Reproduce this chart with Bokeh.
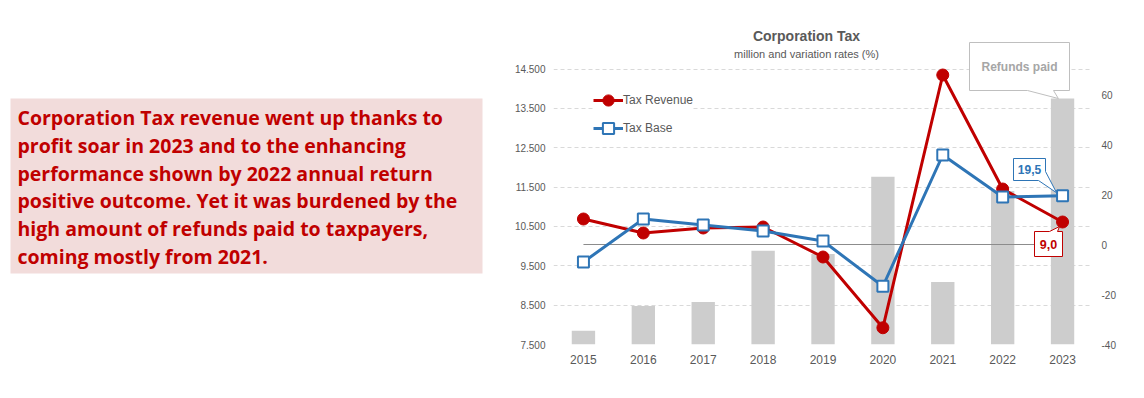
from bokeh.plotting import figure
from bokeh.models import Range1d, LinearAxis, FixedTicker, Legend, LegendItem
from bokeh.layouts import row
from bokeh.core.properties import value
from bokeh.embed import file_html
from bokeh.resources import INLINE

# ---------------- data ----------------
years = [2015, 2016, 2017, 2018, 2019, 2020, 2021, 2022, 2023]
year_labels = ["2015", "2016", "2017", "2018", "2019", "2020", "2021", "2022", "2023"]
refunds_paid = [7850, 8480, 8580, 9880, 9800, 11760, 9090, 11400, 13750]      # million (left axis)
tax_revenue_rate = [10.2, 4.6, 6.6, 7.0, -5.0, -33.3, 67.8, 22.2, 9.0]        # % (right axis)
tax_base_rate = [-7.0, 10.2, 7.8, 5.4, 1.4, -16.7, 35.8, 19.0, 19.5]          # % (right axis)
left_ticks = [7500, 8500, 9500, 10500, 11500, 12500, 13500, 14500]
left_tick_labels = ["7.500", "8.500", "9.500", "10.500", "11.500", "12.500", "13.500", "14.500"]
right_ticks = [-40, -20, 0, 20, 40, 60]
right_tick_labels = ["-40", "-20", "0", "20", "40", "60"]
title_text = "Corporation Tax"
subtitle_text = "million and variation rates (%)"
series_names = ["Tax Revenue", "Tax Base"]
bar_name = "Refunds paid"
callout_base = "19,5"
callout_revenue = "9,0"
comment_lines = [
    "Corporation Tax revenue went up thanks to",
    "profit soar in 2023 and to the enhancing",
    "performance shown by 2022 annual return",
    "positive outcome. Yet it was burdened by the",
    "high amount of refunds paid to taxpayers,",
    "coming mostly from 2021.",
]

# ---------------- styles ----------------
RED = "#C00000"
BLUE = "#2E75B6"
GREY_TXT = "#595959"
BAR = "#CDCDCD"
GRID = "#D9D9D9"
FONT = "Liberation Sans"

# page geometry (page has no margin)
TOTAL_W, TOTAL_H = 1144, 398
LW = 498                         # left panel width
FR_LEFT_IMG, FR_RIGHT_IMG = 553, 1092
FR_TOP_IMG, FR_BOT_IMG = 14, 344
FR_W = FR_RIGHT_IMG - FR_LEFT_IMG
FR_H = FR_BOT_IMG - FR_TOP_IMG
MT, MB = FR_TOP_IMG, TOTAL_H - FR_BOT_IMG
ML, MR = FR_LEFT_IMG - LW, TOTAL_W - FR_RIGHT_IMG

# ---------------- left comment panel ----------------
left = figure(frame_width=LW, frame_height=FR_H, min_border_left=0, min_border_right=0,
              min_border_top=MT, min_border_bottom=MB,
              x_range=Range1d(0, LW), y_range=Range1d(FR_BOT_IMG, FR_TOP_IMG),
              x_axis_type=None, y_axis_type=None,
              toolbar_location=None, tools="", output_backend="svg")
left.grid.visible = False
left.outline_line_color = None
left.quad(left=10, right=482, top=98, bottom=273, fill_color="#F2DCDB", line_color=None)
left.text(x=[17] * len(comment_lines), y=[117 + 27.8 * i for i in range(len(comment_lines))],
          text=comment_lines, text_color=RED, text_font=value("Open Sans"),
          text_font_style="bold", text_font_size="19.5px", text_baseline="middle")

# ---------------- chart ----------------
LEFT_PX_PER_UNIT = 275.5 / 7000
RATE_PX_PER_UNIT = 2.5
PX_PER_YEAR = FR_W / len(years)

def x_of(px):
    return years[0] - 0.5 + (px - FR_LEFT_IMG) / PX_PER_YEAR

def left_of(py):
    return left_ticks[0] + (FR_BOT_IMG - py) / LEFT_PX_PER_UNIT

def rate_of(py):
    return right_ticks[0] + (FR_BOT_IMG - py) / RATE_PX_PER_UNIT

p = figure(frame_width=FR_W, frame_height=FR_H,
           min_border_left=ML, min_border_right=MR, min_border_top=MT, min_border_bottom=MB,
           x_range=Range1d(years[0] - 0.5, years[-1] + 0.5),
           y_range=Range1d(left_ticks[0], left_ticks[0] + FR_H / LEFT_PX_PER_UNIT),
           toolbar_location=None, tools="", output_backend="svg")
p.extra_y_ranges = {"rate": Range1d(right_ticks[0], right_ticks[0] + FR_H / RATE_PX_PER_UNIT)}
p.outline_line_color = None

# axes
p.xaxis.ticker = FixedTicker(ticks=years)
p.xaxis.major_label_overrides = {y: l for y, l in zip(years, year_labels)}
p.yaxis.ticker = FixedTicker(ticks=left_ticks)
p.yaxis.major_label_overrides = {t: l for t, l in zip(left_ticks, left_tick_labels)}
raxis = LinearAxis(y_range_name="rate", ticker=FixedTicker(ticks=right_ticks),
                   major_label_overrides={t: l for t, l in zip(right_ticks, right_tick_labels)})
p.add_layout(raxis, "right")
for ax in [p.xaxis[0], p.yaxis[0], raxis]:
    ax.axis_line_color = None
    ax.major_tick_line_color = None
    ax.minor_tick_line_color = None
    ax.major_tick_out = 0
    ax.major_tick_in = 0
    ax.minor_tick_out = 0
    ax.minor_tick_in = 0
    ax.major_label_text_color = GREY_TXT
    ax.major_label_text_font = FONT
    ax.major_label_text_font_size = "10px"
p.xaxis.major_label_text_font_size = "12px"
p.xaxis.major_label_standoff = 10
p.yaxis[0].major_label_standoff = 8
raxis.major_label_standoff = 9

p.xgrid.visible = False
p.ygrid.grid_line_color = GRID
p.ygrid.grid_line_dash = "4 3"
p.ygrid.grid_line_width = 1

# bars
p.vbar(x=years, top=refunds_paid, bottom=left_ticks[0], width=0.39, fill_color=BAR, line_color=None)

# zero line of rates
p.line(x=[years[0], years[-1]], y=[0, 0], y_range_name="rate", line_color="#8C8C8C", line_width=1)

# series
r_rev_line = p.line(years, tax_revenue_rate, y_range_name="rate", line_color=RED, line_width=3)
r_rev_pts = p.scatter(years, tax_revenue_rate, y_range_name="rate", marker="circle", size=12,
                      fill_color=RED, line_color=RED)
r_base_line = p.line(years, tax_base_rate, y_range_name="rate", line_color=BLUE, line_width=3)
r_base_pts = p.scatter(years, tax_base_rate, y_range_name="rate", marker="square", size=11,
                       fill_color="white", line_color=BLUE, line_width=2)

legend = Legend(items=[LegendItem(label=series_names[0], renderers=[r_rev_line, r_rev_pts]),
                       LegendItem(label=series_names[1], renderers=[r_base_line, r_base_pts])],
                location=(40, 202), margin=0, padding=0, spacing=0,
                glyph_width=30, glyph_height=28, label_height=20, label_standoff=0,
                label_text_font=FONT, label_text_font_size="12px", label_text_color=GREY_TXT,
                border_line_color=None, background_fill_color="white", background_fill_alpha=1)
p.add_layout(legend)

# title
p.text(x=[x_of(806)], y=[left_of(35)], text=[title_text], text_font=value(FONT),
       text_font_style="bold", text_font_size="14px", text_color=GREY_TXT,
       text_align="center", text_baseline="middle")
p.text(x=[x_of(806)], y=[left_of(53)], text=[subtitle_text], text_font=value(FONT),
       text_font_size="11px", text_color=GREY_TXT, text_align="center", text_baseline="middle")

# callout: refunds paid (tip at last bar)
tip_x, tip_y = years[-1] - 0.07, refunds_paid[-1]
p.patch(x=[x_of(969), x_of(1069), x_of(1069), x_of(1053), tip_x, x_of(1027), x_of(969)],
        y=[left_of(42), left_of(42), left_of(90), left_of(90), tip_y, left_of(90), left_of(90)],
        fill_color="white", line_color="#BFBFBF", line_width=1)
p.text(x=[x_of(1019)], y=[left_of(66)], text=[bar_name], text_font=value(FONT),
       text_font_style="bold", text_font_size="12px", text_color="#A6A6A6",
       text_align="center", text_baseline="middle")

# callout: tax base last value
bx, by = years[-1] - 0.1, tax_base_rate[-1] + 1.2
p.patch(x=[x_of(1013), x_of(1045), x_of(1045), bx, x_of(1038), x_of(1013)],
        y=[rate_of(158), rate_of(158), rate_of(171), by, rate_of(180), rate_of(180)],
        y_range_name="rate", fill_color="white", line_color=BLUE, line_width=1)
p.text(x=[x_of(1029)], y=[rate_of(169)], text=[callout_base], y_range_name="rate",
       text_font=value(FONT), text_font_style="bold", text_font_size="12px", text_color=BLUE,
       text_align="center", text_baseline="middle")

# callout: tax revenue last value
rx, ry = years[-1] - 0.05, tax_revenue_rate[-1] - 1.8
p.patch(x=[x_of(1034), x_of(1049), rx, x_of(1057), x_of(1062), x_of(1062), x_of(1034)],
        y=[rate_of(231), rate_of(231), ry, rate_of(231), rate_of(231), rate_of(256), rate_of(256)],
        y_range_name="rate", fill_color="white", line_color=RED, line_width=1)
p.text(x=[x_of(1048)], y=[rate_of(244)], text=[callout_revenue], y_range_name="rate",
       text_font=value(FONT), text_font_style="bold", text_font_size="12.5px", text_color=RED,
       text_align="center", text_baseline="middle")

layout = row(left, p, spacing=0)
open("out.html", "w").write(file_html(layout, INLINE))
